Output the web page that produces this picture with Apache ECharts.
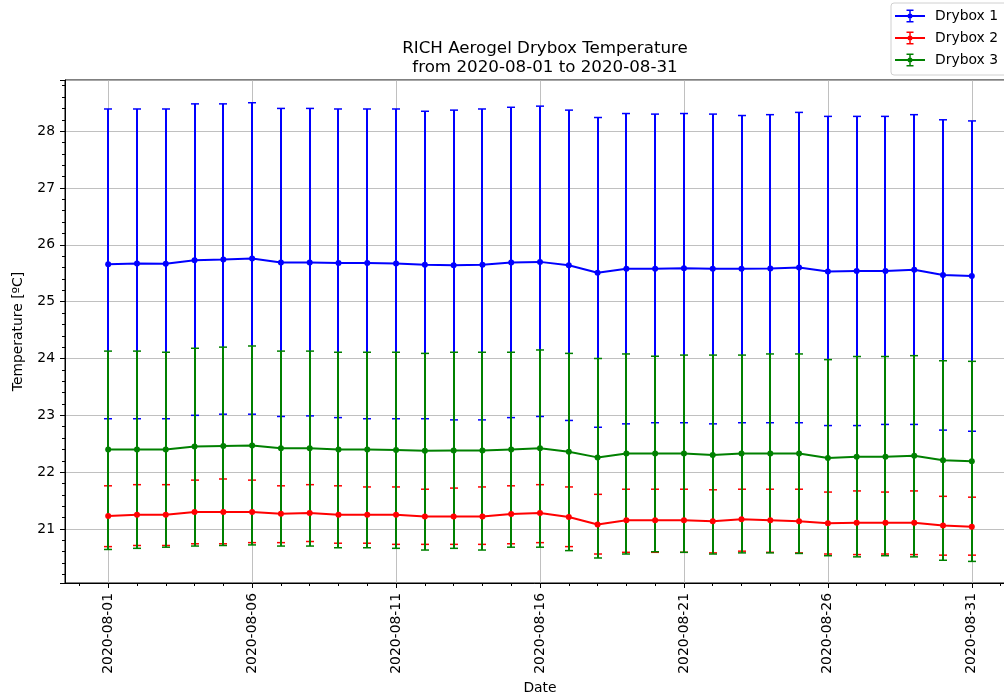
<!DOCTYPE html>
<html>
<head>
<meta charset="utf-8">
<script src="https://cdn.jsdelivr.net/npm/echarts@6/dist/echarts.min.js"></script>
<style>
  html, body { margin: 0; padding: 0; background: #fff; }
  #main { width: 1004px; height: 695px; }
</style>
</head>
<body>
<div id="main"></div>
<script>
let days = ['2020-08-01', '2020-08-02', '2020-08-03', '2020-08-04', '2020-08-05', '2020-08-06', '2020-08-07', '2020-08-08',
    '2020-08-09', '2020-08-10', '2020-08-11', '2020-08-12', '2020-08-13', '2020-08-14', '2020-08-15', '2020-08-16',
    '2020-08-17', '2020-08-18', '2020-08-19', '2020-08-20', '2020-08-21', '2020-08-22', '2020-08-23', '2020-08-24',
    '2020-08-25', '2020-08-26', '2020-08-27', '2020-08-28', '2020-08-29', '2020-08-30', '2020-08-31'];
// empty slots either side of the month (axis margin)
let axisDays = ['2020-07-31'].concat(days, ['2020-09-01']);

let blueMean = [25.66, 25.67, 25.665, 25.73, 25.74, 25.76, 25.69, 25.69, 25.68, 25.68, 25.67, 25.65, 25.64, 25.65, 25.69, 25.70,
    25.64, 25.51, 25.58, 25.58, 25.59, 25.58, 25.58, 25.585, 25.60, 25.53, 25.54, 25.54, 25.56, 25.47, 25.45];
let blueHi = [28.39, 28.39, 28.39, 28.48, 28.48, 28.50, 28.40, 28.40, 28.39, 28.39, 28.39, 28.35, 28.37, 28.39, 28.42, 28.44,
    28.37, 28.24, 28.31, 28.30, 28.31, 28.30, 28.275, 28.29, 28.33, 28.26, 28.26, 28.26, 28.29, 28.20, 28.18];
let blueLo = [22.94, 22.94, 22.94, 23.00, 23.02, 23.02, 22.98, 22.99, 22.96, 22.94, 22.94, 22.94, 22.92, 22.92, 22.96, 22.98,
    22.91, 22.79, 22.85, 22.87, 22.87, 22.85, 22.87, 22.87, 22.87, 22.82, 22.82, 22.84, 22.84, 22.74, 22.72];

let redMean = [21.23, 21.25, 21.25, 21.30, 21.30, 21.30, 21.27, 21.28, 21.25, 21.25, 21.25, 21.22, 21.22, 21.22, 21.265, 21.28,
    21.21, 21.08, 21.155, 21.155, 21.155, 21.135, 21.17, 21.155, 21.135, 21.10, 21.11, 21.11, 21.11, 21.06, 21.04];
let redHi = [21.76, 21.78, 21.78, 21.86, 21.88, 21.86, 21.76, 21.78, 21.76, 21.74, 21.74, 21.70, 21.72, 21.74, 21.76, 21.78,
    21.74, 21.61, 21.70, 21.70, 21.70, 21.69, 21.70, 21.70, 21.70, 21.65, 21.67, 21.65, 21.67, 21.575, 21.56];
let redLo = [20.69, 20.71, 20.71, 20.74, 20.74, 20.76, 20.76, 20.78, 20.75, 20.75, 20.73, 20.73, 20.73, 20.73, 20.74, 20.76,
    20.69, 20.56, 20.59, 20.59, 20.59, 20.58, 20.61, 20.59, 20.58, 20.56, 20.55, 20.56, 20.55, 20.54, 20.54];

let greenMean = [22.40, 22.40, 22.40, 22.45, 22.46, 22.47, 22.42, 22.42, 22.40, 22.40, 22.39, 22.375, 22.38, 22.38, 22.40, 22.42,
    22.36, 22.26, 22.33, 22.33, 22.33, 22.30, 22.33, 22.33, 22.33, 22.25, 22.27, 22.27, 22.29, 22.21, 22.19];
let greenHi = [24.13, 24.13, 24.11, 24.18, 24.20, 24.22, 24.13, 24.13, 24.11, 24.11, 24.11, 24.09, 24.11, 24.11, 24.11, 24.15,
    24.09, 24.00, 24.08, 24.04, 24.06, 24.06, 24.06, 24.08, 24.08, 23.98, 24.035, 24.035, 24.05, 23.96, 23.95];
let greenLo = [20.64, 20.66, 20.68, 20.70, 20.71, 20.72, 20.70, 20.70, 20.67, 20.67, 20.66, 20.63, 20.66, 20.63, 20.68, 20.68,
    20.62, 20.49, 20.56, 20.60, 20.59, 20.56, 20.58, 20.58, 20.57, 20.53, 20.51, 20.53, 20.51, 20.45, 20.43];

let yMin = 20.05, yMax = 28.9;

let boxes = [
    {name: 'Drybox 1', color: '#0000ff', mean: blueMean, lo: blueLo, hi: blueHi},
    {name: 'Drybox 2', color: '#ff0000', mean: redMean, lo: redLo, hi: redHi},
    {name: 'Drybox 3', color: '#008000', mean: greenMean, lo: greenLo, hi: greenHi}
];

// errorbar legend handle: line + bar + caps + dot
let ebIcon = 'path://M0,5.5h30v2h-30z M14.25,0.75h1.5v11.5h-1.5z M11.5,0h7v1.5h-7z M11.5,11.5h7v1.5h-7z ' +
    'M12.5,6.5a2.5,2.5 0 1,1 5,0a2.5,2.5 0 1,1 -5,0z';

function isMajor(idx) {
    return idx >= 1 && idx <= 31 && (idx - 1) % 5 === 0;
}

function errRender(params, api) {
    let x = api.value(0);
    let lo = api.coord([x, api.value(1)]);
    let hi = api.coord([x, api.value(2)]);
    let c = api.visual('color');
    let px = Math.round(lo[0]); // snap so the 2px bar covers whole pixels
    let w = 4;
    return {
        type: 'group',
        children: [
            {type: 'line', shape: {x1: px, y1: lo[1], x2: px, y2: hi[1]}, style: {stroke: c, lineWidth: 2}},
            {type: 'line', shape: {x1: px - w, y1: lo[1], x2: px + w, y2: lo[1]}, style: {stroke: c, lineWidth: 1.5}},
            {type: 'line', shape: {x1: px - w, y1: hi[1], x2: px + w, y2: hi[1]}, style: {stroke: c, lineWidth: 1.5}}
        ]
    };
}

let series = [];
// error bars first (below all mean lines)
boxes.forEach(function (b, k) {
    series.push({
        name: b.name,
        type: 'custom',
        renderItem: errRender,
        itemStyle: {color: b.color},
        encode: {x: 0, y: [1, 2]},
        data: days.map(function (d, i) { return [i + 1, b.lo[i], b.hi[i]]; }),
        z: 3 + k,
        silent: true
    });
});
boxes.forEach(function (b, k) {
    series.push({
        name: b.name,
        type: 'line',
        data: days.map(function (d, i) { return [i + 1, b.mean[i]]; }),
        symbol: 'circle',
        symbolSize: 6,
        showSymbol: true,
        lineStyle: {color: b.color, width: 2},
        itemStyle: {color: b.color, borderWidth: 0},
        z: 10 + k,
        silent: true
    });
});

let myChart = echarts.init(document.getElementById('main'), null, {renderer: 'canvas'});

let option = {
    animation: false,
    backgroundColor: '#fff',
    textStyle: {fontFamily: 'DejaVu Sans', color: '#000'},
    title: {
        text: 'RICH Aerogel Drybox Temperature\nfrom 2020-08-01 to 2020-08-31',
        left: 540,
        top: 34,
        textAlign: 'center',
        textStyle: {fontFamily: 'DejaVu Sans', fontSize: 16.7, fontWeight: 'normal', color: '#000', lineHeight: 19}
    },
    legend: {
        orient: 'vertical',
        right: -24,
        top: 3,
        padding: [6, 30, 8, 4],
        itemWidth: 30,
        itemHeight: 13,
        itemGap: 8,
        borderColor: '#d0d0d0',
        borderWidth: 1,
        borderRadius: 3,
        backgroundColor: '#fff',
        itemStyle: {borderWidth: 0},
        textStyle: {fontFamily: 'DejaVu Sans', fontSize: 13.9, color: '#000', padding: [0, 0, 0, 5]},
        data: boxes.map(function (b) { return {name: b.name, icon: ebIcon, itemStyle: {color: b.color}}; })
    },
    grid: {
        left: 65, right: -11, top: 80, bottom: 112,
        containLabel: false,
        outerBoundsMode: 'none',
        show: true,
        borderColor: '#000',
        borderWidth: 1,
        backgroundColor: 'transparent'
    },
    xAxis: [
        {
            type: 'category',
            position: 'bottom',
            data: axisDays,
            boundaryGap: true,
            name: 'Date',
            nameLocation: 'middle',
            nameGap: 98,
            nameTextStyle: {fontFamily: 'DejaVu Sans', fontSize: 13.9, color: '#000'},
            axisLine: {show: true, lineStyle: {color: '#000', width: 1}},
            axisTick: {show: true, alignWithLabel: true, interval: isMajor, length: 5, lineStyle: {color: '#000', width: 1}},
            axisLabel: {show: true, interval: isMajor, rotate: 90, margin: 10, fontFamily: 'DejaVu Sans', fontSize: 13.9, color: '#000'},
            splitLine: {show: true, alignWithLabel: true, interval: isMajor, lineStyle: {color: '#b0b0b0', width: 0.8}}
        },
        {
            // minor ticks, one per day
            type: 'category',
            position: 'bottom',
            data: axisDays,
            boundaryGap: true,
            axisLine: {show: false},
            axisTick: {show: true, alignWithLabel: true, interval: 0, length: 3, lineStyle: {color: '#000', width: 1}},
            axisLabel: {show: false},
            splitLine: {show: false}
        }
    ],
    yAxis: {
        type: 'value',
        min: yMin,
        max: yMax,
        splitNumber: 9,
        name: 'Temperature [ºC]',
        nameLocation: 'middle',
        nameGap: 40,
        nameTextStyle: {fontFamily: 'DejaVu Sans', fontSize: 13.9, color: '#000'},
        axisLine: {show: true, lineStyle: {color: '#000', width: 1}},
        axisTick: {show: true, length: 5, lineStyle: {color: '#000', width: 1}},
        minorTick: {show: true, splitNumber: 5, length: 3, lineStyle: {color: '#000', width: 1}},
        axisLabel: {margin: 10, showMinLabel: false, showMaxLabel: false, fontFamily: 'DejaVu Sans', fontSize: 13.9, color: '#000'},
        splitLine: {show: true, lineStyle: {color: '#b0b0b0', width: 0.8}}
    },
    series: series
};
myChart.setOption(option);
</script>
</body>
</html>
